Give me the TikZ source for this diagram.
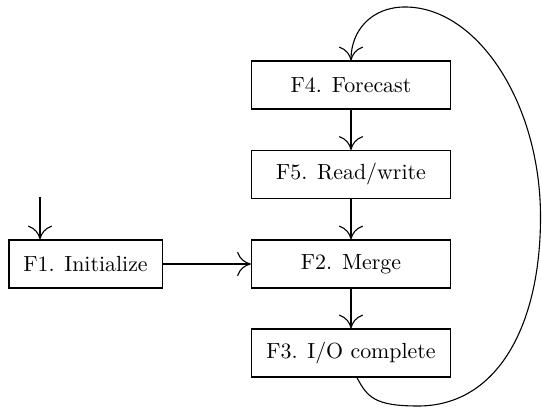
\documentclass[tikz,border=0pt]{standalone}
\usetikzlibrary{arrows.meta}
\begin{document}
\begin{tikzpicture}[x=0.4566pt,y=0.4566pt,
  box/.style={draw, line width=0.5pt, minimum width=90.9pt, minimum height=21.9pt, inner sep=0pt},
  conn/.style={line width=0.5pt, -{To[length=6.3pt,width=11pt]}}]
\useasboundingbox (0,0) rectangle (542,407);
\node[box] (F4) at (351,322) {F4. Forecast};
\node[box] (F5) at (351,232.5) {F5. Read/write};
\node[box] (F2) at (351,143) {F2. Merge};
\node[box] (F3) at (351,54) {F3. I/O complete};
\node[box, minimum width=69.9pt] (F1) at (85.5,143) {F1. Initialize};
\coordinate (in) at (40,210);
\coordinate (b) at (418,1);
\coordinate (r) at (540.5,190);
\coordinate (t) at (405,400);
\draw[conn] (in) -- (in |- F1.north);
\draw[conn] (F1) -- (F2);
\draw[conn] (F4) -- (F5);
\draw[conn] (F5) -- (F2);
\draw[conn] (F2) -- (F3);
\draw[conn] ([xshift=2.7pt]F3.south) to[out=-62,in=180,out distance=10pt,in distance=20pt] (b)
  to[out=0,in=-90,out distance=36pt,in distance=50pt] (r)
  to[out=90,in=0,out distance=52pt,in distance=33pt] (t)
  to[out=180,in=90,out distance=15pt,in distance=14pt] (F4);
\end{tikzpicture}
\end{document}
